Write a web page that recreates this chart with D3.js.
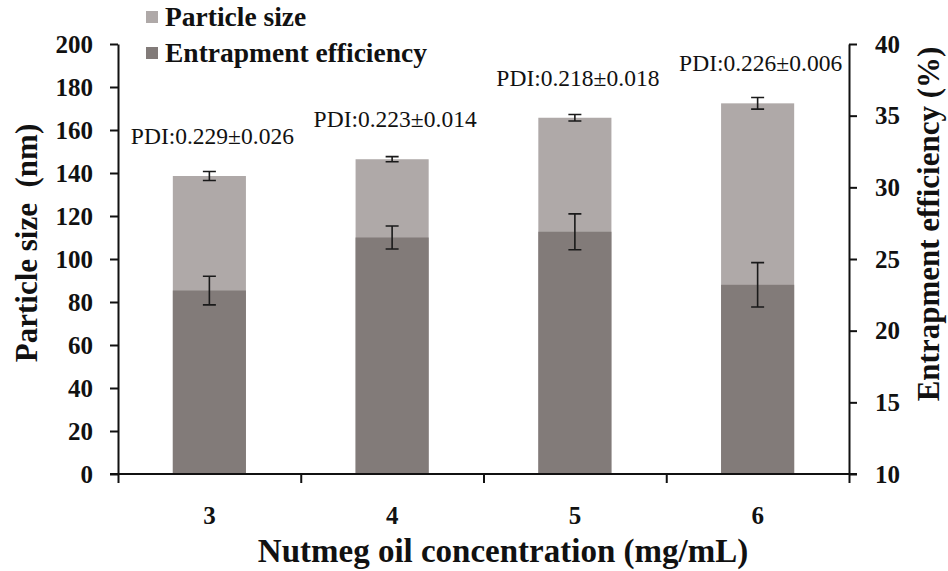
<!DOCTYPE html>
<html>
<head>
<meta charset="utf-8">
<script src="https://cdn.jsdelivr.net/npm/d3@7"></script>
<style>
  body { margin: 0; background: #fff; }
  svg { display: block; }
</style>
</head>
<body>
<svg id="chart" width="948" height="571"></svg>
<script>
const width = 948;
const height = 571;
const FONT = "'Liberation Serif', 'Times New Roman', Times, 'DejaVu Serif', serif";

// data
const concentrations = ["3", "4", "5", "6"];
const particleSize = [138.6, 146.4, 165.7, 172.4];
const particleSizeErr = [2.1, 1.2, 1.5, 2.7];
const efficiency = [22.8, 26.5, 26.9, 23.2];
const efficiencyErr = [1.0, 0.8, 1.25, 1.55];
const pdiLabels = ["PDI:0.229\u00b10.026", "PDI:0.223\u00b10.014", "PDI:0.218\u00b10.018", "PDI:0.226\u00b10.006"];
const leftTicks = [0, 20, 40, 60, 80, 100, 120, 140, 160, 180, 200];
const rightTicks = [10, 15, 20, 25, 30, 35, 40];

const LIGHT = "#afa9a8";
const DARK = "#827b79";

const plotLeft = 118, plotRight = 849, plotTop = 44, plotBottom = 474;

const svg = d3.select("#chart");

const x = d3.scaleBand()
  .domain(concentrations)
  .range([plotLeft, plotRight])
  .paddingInner(0.6)
  .paddingOuter(0.3);

const xEdge = d3.scaleLinear().domain([0, concentrations.length]).range([plotLeft, plotRight]);
const yL = d3.scaleLinear().domain([0, 200]).range([plotBottom, plotTop]);
const yR = d3.scaleLinear().domain([10, 40]).range([plotBottom, plotTop]);

const rows = concentrations.map((c, i) => ({
  c, size: particleSize[i], sizeErr: particleSizeErr[i],
  ee: efficiency[i], eeErr: efficiencyErr[i], pdi: pdiLabels[i]
}));

// light bars (particle size, left axis)
svg.append("g").selectAll("rect")
  .data(rows)
  .join("rect")
  .attr("x", d => x(d.c))
  .attr("width", x.bandwidth())
  .attr("y", d => yL(d.size))
  .attr("height", d => yL(0) - yL(d.size))
  .attr("fill", LIGHT);

// dark bars (entrapment efficiency, right axis)
svg.append("g").selectAll("rect")
  .data(rows)
  .join("rect")
  .attr("x", d => x(d.c))
  .attr("width", x.bandwidth())
  .attr("y", d => yR(d.ee))
  .attr("height", d => yR(10) - yR(d.ee))
  .attr("fill", DARK);

function errorBars(sel, val, err, scale) {
  const g = sel.append("g").attr("stroke", "#1a1a1a").attr("stroke-width", 1.6).attr("fill", "none");
  const cx = d => x(d.c) + x.bandwidth() / 2;
  g.selectAll("path")
    .data(rows)
    .join("path")
    .attr("d", d => {
      const y1 = scale(val(d) + err(d)), y2 = scale(val(d) - err(d)), c = cx(d);
      return `M${c},${y1}V${y2}M${c - 6.5},${y1}H${c + 6.5}M${c - 6.5},${y2}H${c + 6.5}`;
    });
}
errorBars(svg, d => d.size, d => d.sizeErr, yL);
errorBars(svg, d => d.ee, d => d.eeErr, yR);

// PDI annotations
svg.append("g").selectAll("text")
  .data(rows)
  .join("text")
  .attr("x", d => x(d.c) + x.bandwidth() / 2 + 3)
  .attr("y", d => yL(d.size) - 32)
  .attr("text-anchor", "middle")
  .attr("font-family", FONT)
  .attr("font-size", 23.5)
  .attr("fill", "#111")
  .text(d => d.pdi);

// axes
function styleAxis(g) {
  g.attr("font-family", FONT).attr("font-size", 25).attr("font-weight", "bold");
  g.selectAll("path, line").attr("stroke", "#111").attr("stroke-width", 2);
  g.selectAll("text").attr("fill", "#111");
}

svg.append("g")
  .attr("transform", `translate(${plotLeft},0)`)
  .call(d3.axisLeft(yL).tickValues(leftTicks).tickSize(8).tickSizeOuter(0).tickPadding(17))
  .call(styleAxis);

svg.append("g")
  .attr("transform", `translate(${plotRight},0)`)
  .call(d3.axisRight(yR).tickValues(rightTicks).tickSize(8).tickSizeOuter(0).tickPadding(18))
  .call(styleAxis);

// x axis: boundary ticks on edge scale, labels on band scale
svg.append("g")
  .attr("transform", `translate(0,${plotBottom})`)
  .call(d3.axisBottom(xEdge).tickValues(d3.range(0, concentrations.length + 1)).tickFormat("").tickSize(9).tickSizeOuter(0))
  .call(g => g.select(".domain").remove())
  .call(styleAxis);

svg.append("line")
  .attr("x1", plotLeft - 8).attr("x2", plotRight + 8)
  .attr("y1", plotBottom).attr("y2", plotBottom)
  .attr("stroke", "#111").attr("stroke-width", 2);

svg.append("g")
  .attr("transform", `translate(0,${plotBottom})`)
  .call(d3.axisBottom(x).tickSize(0).tickPadding(32))
  .call(g => g.select(".domain").remove())
  .call(styleAxis);

// axis titles
const titles = svg.append("g")
  .attr("font-family", FONT)
  .attr("font-weight", "bold")
  .attr("fill", "#111")
  .attr("text-anchor", "middle");

titles.append("text")
  .attr("transform", "translate(37,243) rotate(-90)")
  .attr("font-size", 31)
  .attr("xml:space", "preserve")
  .text("Particle size  (nm)");

titles.append("text")
  .attr("transform", "translate(939,224) rotate(-90)")
  .attr("font-size", 31)
  .text("Entrapment efficiency (%)");

titles.append("text")
  .attr("x", 503)
  .attr("y", 562)
  .attr("font-size", 33)
  .text("Nutmeg oil concentration (mg/mL)");

// legend
const legendItems = [
  { label: "Particle size", color: LIGHT },
  { label: "Entrapment efficiency", color: DARK }
];
const legend = svg.append("g")
  .attr("transform", "translate(146,11)")
  .attr("font-family", FONT)
  .attr("font-size", 27.5)
  .attr("font-weight", "bold");
legend.selectAll("g")
  .data(legendItems)
  .join("g")
  .attr("transform", (d, i) => `translate(0,${i * 36})`)
  .call(g => g.append("rect").attr("width", 12).attr("height", 12).attr("fill", d => d.color))
  .call(g => g.append("text")
    .attr("x", 19)
    .attr("y", 15)
    .attr("fill", "#111")
    .text(d => d.label));
</script>
</body>
</html>
